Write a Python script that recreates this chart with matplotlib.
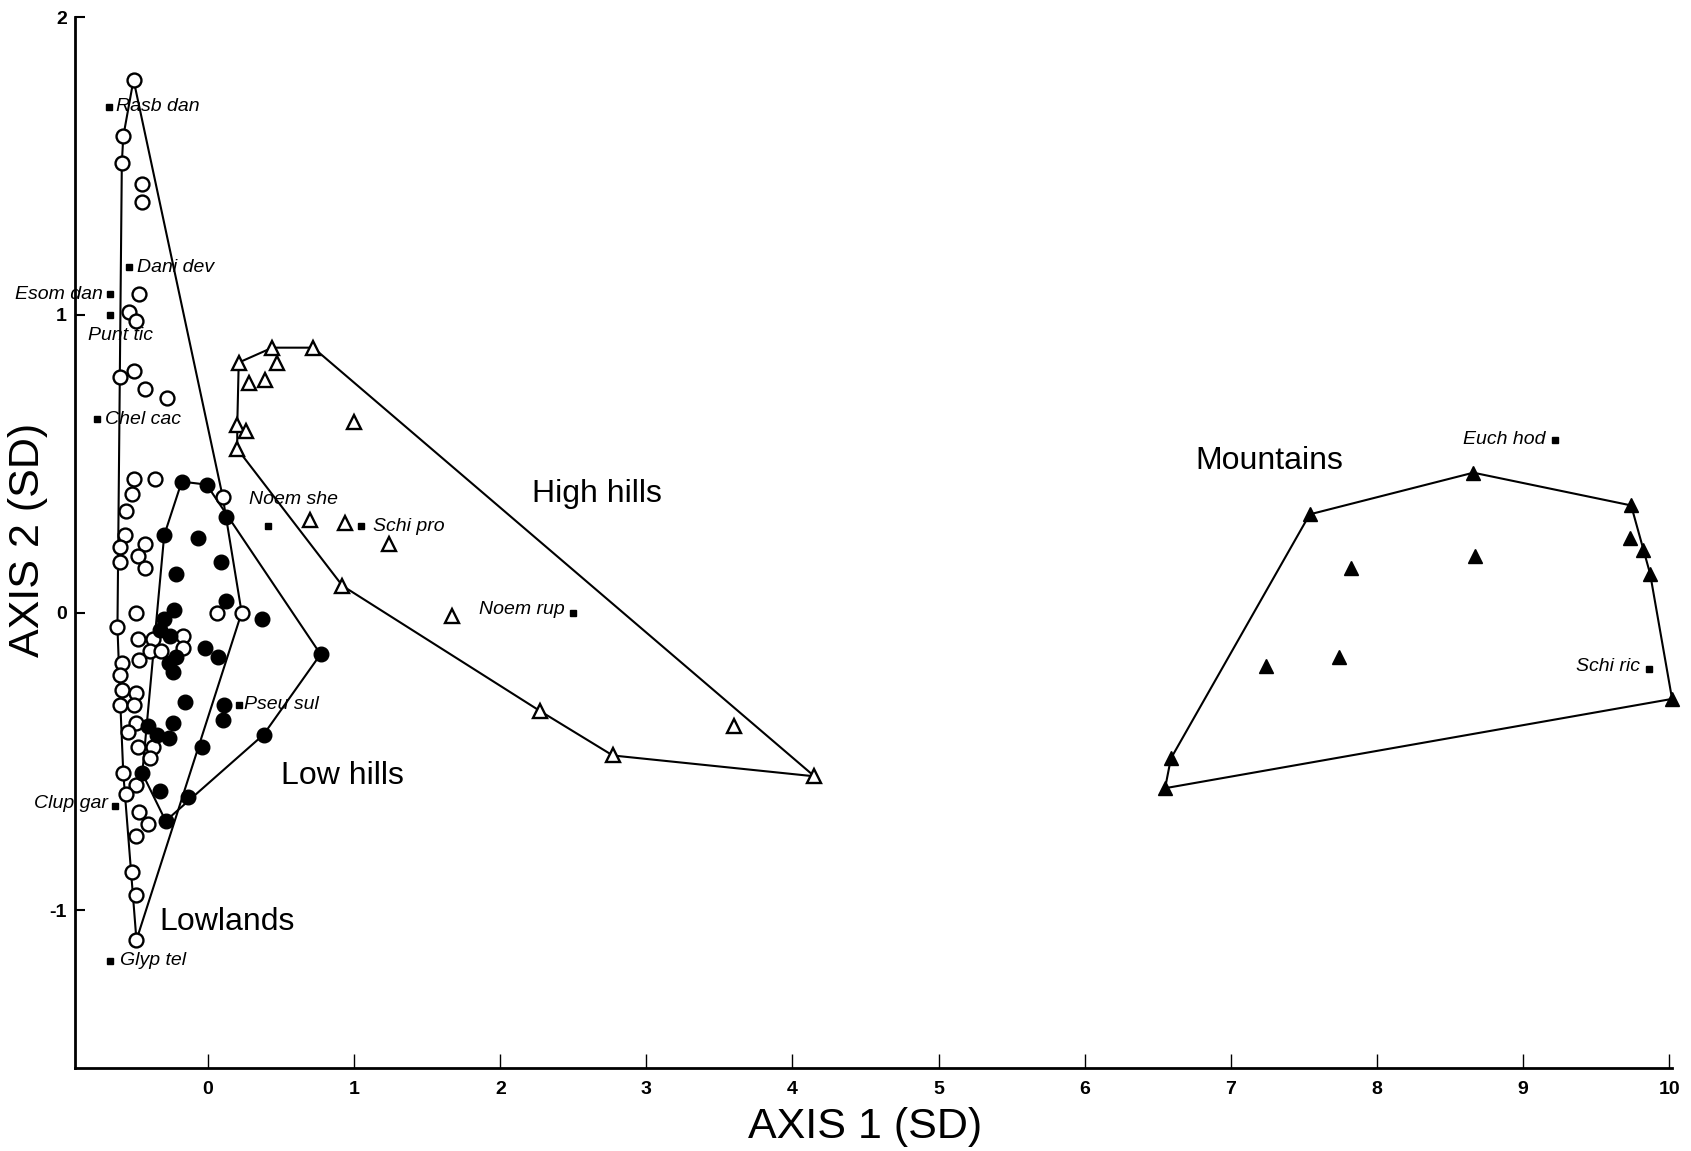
import matplotlib
matplotlib.use('Agg')
import matplotlib.pyplot as plt

plt.rcParams['font.family'] = 'Liberation Sans'
plt.rcParams['axes.unicode_minus'] = False

# sites by region (axis 1, axis 2 scores in SD units)
lowland_x = [-0.51, -0.58, -0.59, -0.45, -0.45, -0.47, -0.54, -0.49, -0.60, -0.51, -0.43, -0.28,
             -0.51, -0.36, -0.52, -0.56, -0.57, -0.60, -0.43, -0.60, -0.48, -0.43, 0.10, -0.49,
             -0.62, 0.06, 0.23, -0.48, -0.38, -0.17, -0.17, -0.40, -0.32, -0.47, -0.59, -0.60,
             -0.59, -0.49, -0.60, -0.51, -0.49, -0.55, -0.48, -0.38, -0.40, -0.58, -0.49, -0.56,
             -0.47, -0.41, -0.49, -0.52, -0.49, -0.49]
lowland_y = [1.79, 1.60, 1.51, 1.44, 1.38, 1.07, 1.01, 0.98, 0.79, 0.81, 0.75, 0.72,
             0.45, 0.45, 0.40, 0.34, 0.26, 0.22, 0.23, 0.17, 0.19, 0.15, 0.39, 0.00,
             -0.05, 0.00, 0.00, -0.09, -0.09, -0.08, -0.12, -0.13, -0.13, -0.16, -0.17, -0.21,
             -0.26, -0.27, -0.31, -0.31, -0.37, -0.40, -0.45, -0.45, -0.49, -0.54, -0.58, -0.61,
             -0.67, -0.71, -0.75, -0.87, -0.95, -1.10]

lowhill_x = [-0.18, -0.01, 0.12, -0.30, -0.07, 0.09, -0.22, 0.12, -0.23, 0.37, -0.30, -0.33,
             -0.26, -0.22, -0.27, -0.24, -0.02, 0.07, 0.77, -0.16, 0.11, 0.10, -0.24, -0.41,
             -0.35, -0.27, 0.38, -0.04, -0.45, -0.33, -0.14, -0.29]
lowhill_y = [0.44, 0.43, 0.32, 0.26, 0.25, 0.17, 0.13, 0.04, 0.01, -0.02, -0.02, -0.06,
             -0.08, -0.15, -0.17, -0.20, -0.12, -0.15, -0.14, -0.30, -0.31, -0.36, -0.37, -0.38,
             -0.41, -0.42, -0.41, -0.45, -0.54, -0.60, -0.62, -0.70]

highhill_x = [0.21, 0.44, 0.72, 0.47, 0.28, 0.39, 0.20, 0.26, 0.20, 1.00, 0.70, 0.94,
              1.24, 0.92, 1.67, 2.27, 2.77, 3.60, 4.15]
highhill_y = [0.84, 0.89, 0.89, 0.84, 0.77, 0.78, 0.63, 0.61, 0.55, 0.64, 0.31, 0.30,
              0.23, 0.09, -0.01, -0.33, -0.48, -0.38, -0.55]

mount_x = [6.55, 6.59, 7.54, 8.66, 9.74, 9.73, 9.82, 9.87, 10.02, 7.82, 8.67, 7.24, 7.74]
mount_y = [-0.59, -0.49, 0.33, 0.47, 0.36, 0.25, 0.21, 0.13, -0.29, 0.15, 0.19, -0.18, -0.15]

# species scores
species = ['Rasb dan', 'Dani dev', 'Esom dan', 'Punt tic', 'Chel cac', 'Noem she', 'Schi pro',
           'Noem rup', 'Pseu sul', 'Clup gar', 'Glyp tel', 'Euch hod', 'Schi ric']
species_x = [-0.68, -0.54, -0.67, -0.67, -0.76, 0.41, 1.05, 2.50, 0.21, -0.64, -0.67, 9.22, 9.86]
species_y = [1.70, 1.16, 1.07, 1.00, 0.65, 0.29, 0.29, 0.00, -0.31, -0.65, -1.17, 0.58, -0.19]

# label placement (offset in points, alignment)
label_pos = {'Rasb dan': (5, 0, 'left'), 'Dani dev': (6, 0, 'left'), 'Esom dan': (-5, 0, 'right'),
             'Punt tic': (-16, -15, 'left'), 'Chel cac': (6, 0, 'left'), 'Noem she': (-14, 19, 'left'),
             'Schi pro': (8, 0, 'left'), 'Noem rup': (-6, 2, 'right'), 'Pseu sul': (4, 0, 'left'),
             'Clup gar': (-5, 2, 'right'), 'Glyp tel': (7, 0, 'left'), 'Euch hod': (-7, 0, 'right'),
             'Schi ric': (-6, 2, 'right')}


def convex_hull(xs, ys):
    pts = sorted(zip(xs, ys))

    def cross(o, a, b):
        return (a[0] - o[0]) * (b[1] - o[1]) - (a[1] - o[1]) * (b[0] - o[0])
    lower, upper = [], []
    for p in pts:
        while len(lower) >= 2 and cross(lower[-2], lower[-1], p) <= 0:
            lower.pop()
        lower.append(p)
    for p in reversed(pts):
        while len(upper) >= 2 and cross(upper[-2], upper[-1], p) <= 0:
            upper.pop()
        upper.append(p)
    h = lower[:-1] + upper[:-1]
    h.append(h[0])
    return [p[0] for p in h], [p[1] for p in h]


fig = plt.figure(figsize=(16.91, 11.51), dpi=100)
ax = fig.add_axes([0.0444, 0.0721, 0.9444, 0.9129])

groups = [
    (lowland_x, lowland_y, dict(marker='o', ms=10, mfc='white', mec='black', mew=1.7)),
    (lowhill_x, lowhill_y, dict(marker='o', ms=10.5, mfc='black', mec='black', mew=1)),
    (highhill_x, highhill_y, dict(marker='^', ms=10, mfc='white', mec='black', mew=1.7)),
    (mount_x, mount_y, dict(marker='^', ms=9.5, mfc='black', mec='black', mew=1)),
]
# hull outline of each region, then the sites on top
for xs, ys, style in groups:
    hx, hy = convex_hull(xs, ys)
    ax.plot(hx, hy, color='black', lw=1.5, zorder=2, clip_on=False)
for xs, ys, style in groups:
    ax.plot(xs, ys, ls='none', zorder=3, clip_on=False, **style)

ax.plot(species_x, species_y, ls='none', marker='s', ms=4.5, color='black', zorder=4)
for name, sx, sy in zip(species, species_x, species_y):
    dx, dy, ha = label_pos[name]
    ax.annotate(name, (sx, sy), xytext=(dx, dy), textcoords='offset points',
                ha=ha, va='center', fontsize=14, style='italic', zorder=5)

ax.text(-0.33, -1.04, 'Lowlands', fontsize=23, va='center')
ax.text(0.50, -0.55, 'Low hills', fontsize=23, va='center')
ax.text(2.22, 0.40, 'High hills', fontsize=23, va='center')
ax.text(6.76, 0.51, 'Mountains', fontsize=23, va='center')

ax.set_xlim(-0.91, 10.02)
ax.set_ylim(-1.53, 2.0)
ax.set_xticks(range(0, 11))
ax.set_yticks([-1, 0, 1, 2])
ax.set_yticklabels(['-1', '0', '1', '2'])
for side in ['top', 'right']:
    ax.spines[side].set_visible(False)
for side in ['left', 'bottom']:
    ax.spines[side].set_linewidth(2)
ax.tick_params(axis='x', direction='in', length=10, width=1, pad=9, labelsize=14)
ax.tick_params(axis='y', direction='in', length=7, width=1.5, pad=6, labelsize=14)
for lab in ax.get_xticklabels() + ax.get_yticklabels():
    lab.set_fontweight('bold')

ax.text(0.4947, -0.056, 'AXIS 1 (SD)', transform=ax.transAxes, fontsize=31,
        ha='center', va='center')
ax.text(-0.0295, 0.5025, 'AXIS 2 (SD)', transform=ax.transAxes, fontsize=31,
        ha='center', va='center', rotation=90)

plt.savefig('out.png', dpi=100)
